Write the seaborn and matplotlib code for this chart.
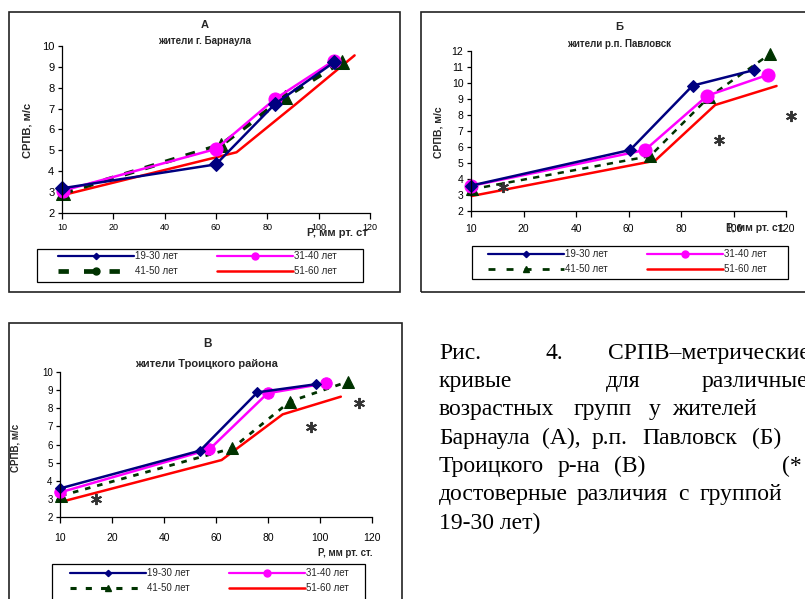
import matplotlib
matplotlib.use("Agg")
import matplotlib.pyplot as plt
import seaborn as sns
from matplotlib.lines import Line2D
from matplotlib.patches import Rectangle

sns.set_style("white")
plt.rcParams['font.family'] = ['Liberation Sans', 'DejaVu Sans']

# ---------------- data ----------------
groups = ["19-30 лет", "31-40 лет", "41-50 лет", "51-60 лет"]
x_ticks = [0, 20, 40, 60, 80, 100, 120]
x_tick_labels = ["10", "20", "40", "60", "80", "100", "120"]

# Panel A - Barnaul
A_p19 = [0, 60, 83, 106];      A_v19 = [3.17, 4.32, 7.22, 9.22]
A_p31 = [0.5, 60, 83, 106];    A_v31 = [3.06, 5.06, 7.46, 9.30]
A_p41 = [0.5, 62, 87, 109];    A_v41 = [2.95, 5.25, 7.55, 9.25]
A_p51 = [0.5, 68, 91, 114];    A_v51 = [2.85, 4.90, 7.20, 9.55]
A_yticks = [2, 3, 4, 5, 6, 7, 8, 9, 10]

# Panel B - Pavlovsk
B_p19 = [0, 60.6, 84.4, 107.9];   B_v19 = [3.57, 5.80, 9.83, 10.81]
B_p31 = [0, 66.3, 90, 113.3];     B_v31 = [3.55, 5.80, 9.20, 10.52]
B_p41 = [0.25, 68.2, 90.8, 113.9]; B_v41 = [3.34, 5.42, 9.14, 11.81]
B_p51 = [0.25, 70.1, 93, 116.4];   B_v51 = [2.92, 5.13, 8.62, 9.81]
B_star_p = [12, 94.5, 121.8];      B_star_v = [3.50, 6.43, 7.95]
B_yticks = [2, 3, 4, 5, 6, 7, 8, 9, 10, 11, 12]

# Panel C - Troitsky district
C_p19 = [0, 53.8, 75.9, 98.5];     C_v19 = [3.57, 5.66, 8.89, 9.34]
C_p31 = [0, 57.4, 79.8, 102.3];    C_v31 = [3.35, 5.73, 8.84, 9.39]
C_p41 = [0.25, 66.2, 88.4, 110.9]; C_v41 = [3.16, 5.79, 8.38, 9.49]
C_p51 = [0.5, 62.1, 85.6, 108];    C_v51 = [2.83, 5.14, 7.67, 8.65]
C_star_p = [13.6, 96.4, 115];      C_star_v = [2.96, 6.95, 8.28]
C_yticks = [2, 3, 4, 5, 6, 7, 8, 9, 10]

NAVY = "#000080"; MAG = "#FF00FF"; DKG = "#003300"; RED = "#FF0000"

W, H = 805, 599
fig = plt.figure(figsize=(W / 100, H / 100), dpi=100)
fig.patch.set_facecolor("white")


def fx(x):
    return x / W


def fy(y):
    return 1 - y / H


def add_ax(l, r, t, b):
    return fig.add_axes([fx(l), fy(b), fx(r) - fx(l), fy(t) - fy(b)])


def style_ax(ax, yticks, ymax, xfs, yfs, xpad):
    ax.set_xlim(0, 120)
    ax.set_ylim(2, ymax)
    ax.set_xticks(x_ticks)
    ax.set_xticklabels(x_tick_labels)
    ax.set_yticks(yticks)
    ax.set_yticklabels([str(v) for v in yticks])
    for s in ["top", "right"]:
        ax.spines[s].set_visible(False)
    for s in ["left", "bottom"]:
        ax.spines[s].set_color("black")
        ax.spines[s].set_linewidth(0.9)
    ax.tick_params(axis="x", direction="out", length=4, width=0.9, colors="black",
                   labelsize=xfs, pad=xpad, bottom=True)
    ax.tick_params(axis="y", direction="out", length=3, width=0.9, colors="black",
                   labelsize=yfs, pad=2.5, left=True)
    ax.set_xlabel("")
    ax.set_ylabel("")
    ax.patch.set_alpha(0)


def draw_series(ax, data, ms, dash41, lw41):
    (p19, v19), (p31, v31), (p41, v41), (p51, v51) = data
    sns.lineplot(x=p51, y=v51, ax=ax, color=RED, lw=1.8, sort=False, clip_on=False)
    sns.lineplot(x=p41, y=v41, ax=ax, color=DKG, lw=lw41, sort=False, linestyle=(0, dash41),
                 marker="^", markersize=ms[2], markeredgecolor=DKG, markerfacecolor=DKG, clip_on=False)
    sns.lineplot(x=p31, y=v31, ax=ax, color=MAG, lw=1.8, sort=False,
                 marker="o", markersize=ms[1], markeredgecolor=MAG, markerfacecolor=MAG, clip_on=False)
    sns.lineplot(x=p19, y=v19, ax=ax, color=NAVY, lw=1.8, sort=False,
                 marker="D", markersize=ms[0], markeredgecolor=NAVY, markerfacecolor=NAVY, clip_on=False)


def add_legend(ax, x0, ytop, dash41, lw41, m41, box):
    h19 = Line2D([], [], color=NAVY, lw=1.6, marker="D", ms=3.2, mfc=NAVY, mec=NAVY)
    h31 = Line2D([], [], color=MAG, lw=1.6, marker="o", ms=5, mfc=MAG, mec=MAG)
    h41 = Line2D([], [], color=DKG, lw=lw41, linestyle=(0, dash41), marker=m41, ms=5, mfc=DKG, mec=DKG)
    h51 = Line2D([], [], color=RED, lw=1.8)
    leg = ax.legend([h19, h41, h31, h51], [groups[0], groups[2], groups[1], groups[3]],
                    ncol=2, loc="upper left", bbox_to_anchor=(fx(x0), fy(ytop)),
                    bbox_transform=fig.transFigure, frameon=False, fontsize=7,
                    handlelength=7.8, handletextpad=0.15, columnspacing=4.0,
                    borderpad=0, borderaxespad=0, labelspacing=0.55)
    bx0, by0, bx1, by1 = box
    fig.patches.append(Rectangle((fx(bx0), fy(by1)), fx(bx1) - fx(bx0), fy(by0) - fy(by1),
                                 transform=fig.transFigure, fill=False, ec="black", lw=0.9))
    return leg


def panel_box(x0, y0, x1, y1):
    fig.patches.append(Rectangle((fx(x0), fy(y1)), fx(x1) - fx(x0), fy(y0) - fy(y1),
                                 transform=fig.transFigure, fill=False, ec="#222222", lw=1.2))


# ---------------- panel borders ----------------
panel_box(9, 12, 400, 292)
panel_box(421, 12, 812, 292)
panel_box(9, 323, 402, 612)

# ---------------- Panel A ----------------
axA = add_ax(62, 370, 46, 212.7)
draw_series(axA, [(A_p19, A_v19), (A_p31, A_v31), (A_p41, A_v41), (A_p51, A_v51)],
            ms=(7.5, 9.4, 9.4), dash41=(2.2, 2.6), lw41=3.2)
style_ax(axA, A_yticks, 10, 6.5, 8, 3.5)
add_legend(axA, 58, 251, (2.2, 3.2), 3.4, "o", (37, 249, 363, 282))
fig.text(fx(205), fy(25), "А", ha="center", va="center", fontsize=8, fontweight="bold")
fig.text(fx(205), fy(41), "жители г. Барнаула", ha="center", va="center", fontsize=7, fontweight="bold")
fig.text(fx(28), fy(130), "СРПВ, м/с", ha="center", va="center", rotation=90, fontsize=8, fontweight="bold")
fig.text(fx(337), fy(233), "Р, мм рт. ст", ha="center", va="center", fontsize=8, fontweight="bold")

# ---------------- Panel B ----------------
axB = add_ax(471, 786, 51, 210.7)
draw_series(axB, [(B_p19, B_v19), (B_p31, B_v31), (B_p41, B_v41), (B_p51, B_v51)],
            ms=(6.6, 9.4, 8.6), dash41=(2.5, 2.5), lw41=1.8)
sns.lineplot(x=B_star_p, y=B_star_v, ax=axB, color="#333333", lw=0, marker=(6, 2, 0),
             markersize=8, markeredgewidth=1.4, markeredgecolor="#333333", clip_on=False, sort=False)
style_ax(axB, B_yticks, 12, 7.5, 7.5, 5.5)
add_legend(axB, 488, 249, (2.5, 4.0), 2.0, "^", (472, 246, 788, 279))
fig.text(fx(619), fy(27), "Б", ha="center", va="center", fontsize=8, fontweight="bold")
fig.text(fx(619), fy(44), "жители р.п. Павловск", ha="center", va="center", fontsize=7, fontweight="bold")
fig.text(fx(438), fy(132), "СРПВ, м/с", ha="center", va="center", rotation=90, fontsize=7.5, fontweight="bold")
fig.text(fx(726), fy(228), "Р, мм рт. ст.", ha="left", va="center", fontsize=7.5, fontweight="bold")

# ---------------- Panel C ----------------
axC = add_ax(60.3, 372, 372.3, 516.7)
draw_series(axC, [(C_p19, C_v19), (C_p31, C_v31), (C_p41, C_v41), (C_p51, C_v51)],
            ms=(5.5, 8.2, 8.6), dash41=(2.0, 2.5), lw41=2.0)
sns.lineplot(x=C_star_p, y=C_star_v, ax=axC, color="#333333", lw=0, marker=(6, 2, 0),
             markersize=8, markeredgewidth=1.4, markeredgecolor="#333333", clip_on=False, sort=False)
style_ax(axC, C_yticks, 10, 7.5, 7, 8)
add_legend(axC, 70, 568, (2.0, 3.0), 2.2, "^", (52, 564, 365, 620))
fig.text(fx(207), fy(344), "В", ha="center", va="center", fontsize=8.5, fontweight="bold")
fig.text(fx(207), fy(364), "жители Троицкого района", ha="center", va="center", fontsize=8, fontweight="bold")
fig.text(fx(15), fy(448), "СРПВ, м/с", ha="center", va="center", rotation=90, fontsize=7, fontweight="bold")
fig.text(fx(345), fy(553), "Р, мм рт. ст.", ha="center", va="center", fontsize=7, fontweight="bold")

# ---------------- caption ----------------
caption = [
    (359, [("Рис.", 439), ("4.", 546), ("СРПВ–метрические", 608)]),
    (387, [("кривые", 439), ("для", 606), ("различные", 702)]),
    (415, [("возрастных", 439), ("групп", 574), ("у", 649), ("жителей", 672)]),
    (444, [("Барнаула", 439), ("(А),", 542), ("р.п.", 592), ("Павловск", 642), ("(Б)", 752)]),
    (472, [("Троицкого", 439), ("р-на", 558), ("(В)", 614), ("(*", 782)]),
    (500, [("достоверные", 439), ("различия", 577), ("с", 678), ("группой", 700)]),
    (529, [("19-30 лет)", 439)]),
]
for yb, words in caption:
    for w, xw in words:
        fig.text(fx(xw), fy(yb), w, ha="left", va="baseline", fontsize=17,
                 family=["Liberation Serif", "DejaVu Serif"], color="black")

fig.savefig("out.png", dpi=100, facecolor="white")
